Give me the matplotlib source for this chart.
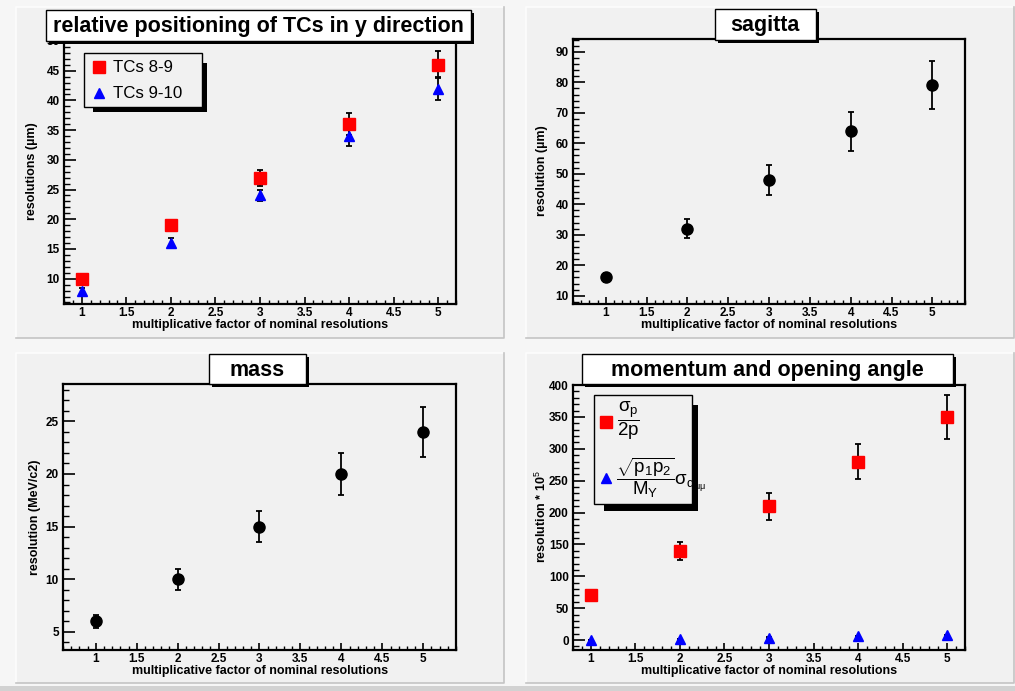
import numpy as np
import matplotlib
matplotlib.use("Agg")
import matplotlib.pyplot as plt
from matplotlib.patches import Rectangle
from matplotlib.ticker import MultipleLocator

plt.rcParams['font.family'] = ['Liberation Sans', 'DejaVu Sans']
plt.rcParams['font.weight'] = 'bold'
plt.rcParams['mathtext.fontset'] = 'custom'
plt.rcParams['mathtext.rm'] = 'Liberation Sans:weight=normal'
plt.rcParams['mathtext.it'] = 'Liberation Sans:weight=normal'
plt.rcParams['mathtext.sf'] = 'Liberation Sans:weight=normal'
plt.rcParams['mathtext.bf'] = 'Liberation Sans:weight=bold'

# ---- data ----
factor = [1, 2, 3, 4, 5]

tc89 = [10, 19, 27, 36, 46]
tc89_err = [0.5, 0.95, 1.35, 1.8, 2.3]
tc910 = [8, 16, 24, 34, 42]
tc910_err = [0.4, 0.8, 0.9, 1.7, 2.0]

sagitta = [16, 32, 48, 64, 79]
sagitta_err = [1.6, 3.2, 4.8, 6.4, 7.9]

mass = [6, 10, 15, 20, 24]
mass_err = [0.6, 1.0, 1.5, 2.0, 2.4]

momentum = [70, 140, 210, 280, 350]
momentum_err = [7, 14, 21, 28, 35]
angle = [0.4, 1.8, 3.8, 5.6, 7.6]
angle_err = [0.05, 0.2, 0.4, 0.6, 0.8]

XLABEL = "multiplicative factor of nominal resolutions"

W, H = 1015, 691
PAD = '#f1f1f1'
fig = plt.figure(figsize=(W / 100, H / 100), dpi=100)
fig.patch.set_facecolor('#f6f6f6')

# background: pads with bevel borders
bg = fig.add_axes([0, 0, 1, 1], zorder=-10)
bg.set_xlim(0, W); bg.set_ylim(H, 0); bg.axis('off')
for (x0, y0, x1, y1) in [(16, 7, 504, 338), (526, 7, 1014, 338),
                         (16, 353, 504, 683), (526, 353, 1014, 683)]:
    bg.add_patch(Rectangle((x0, y0), x1 - x0, y1 - y0, facecolor=PAD, edgecolor='none'))
    bg.plot([x0, x0, x1], [y1, y0, y0], color='#fdfdfd', lw=1.2)
    bg.plot([x0, x1, x1], [y1, y1, y0], color='#c4c4c4', lw=1.2)
bg.add_patch(Rectangle((0, 686), W, 5, facecolor='#d2d2d2', edgecolor='none'))


def frame(l, t, r, b, xlim, ylim, ymaj, ymin):
    ax = fig.add_axes([l / W, 1 - b / H, (r - l) / W, (b - t) / H])
    ax.set_facecolor(PAD)
    ax.set_xlim(*xlim); ax.set_ylim(*ylim)
    for s in ax.spines.values():
        s.set_linewidth(1.6)
    ax.xaxis.set_major_locator(MultipleLocator(0.5))
    ax.xaxis.set_minor_locator(MultipleLocator(0.1))
    ax.yaxis.set_major_locator(MultipleLocator(ymaj))
    ax.yaxis.set_minor_locator(MultipleLocator(ymin))
    ax.xaxis.set_major_formatter(plt.FuncFormatter(lambda v, p: f"{v:g}"))
    ax.tick_params(axis='y', which='major', direction='in', length=8.5, width=1.2,
                   labelsize=8.5, pad=3)
    ax.tick_params(axis='y', which='minor', direction='in', length=4.3, width=1.0)
    ax.tick_params(axis='x', which='major', direction='in', length=5.4, width=1.2,
                   labelsize=8.5, pad=2)
    ax.tick_params(axis='x', which='minor', direction='in', length=2.7, width=1.0)
    return ax


def errs(ax, y, e, color, marker, ms):
    ax.errorbar(factor, y, yerr=e, fmt='none', ecolor='black', elinewidth=1.3,
                capsize=2.3, capthick=1.3, zorder=3)
    ax.plot(factor, y, linestyle='none', marker=marker, color=color, ms=ms, zorder=4)


def labels(xc, xy, yx, yc, ylabel):
    fig.text(xc / W, 1 - xy / H, XLABEL, ha='center', va='center', fontsize=9)
    fig.text(yx / W, 1 - yc / H, ylabel, ha='center', va='center', fontsize=9, rotation=90)


# top left
ax1 = frame(64, 38, 456, 304, (0.8, 5.2), (5.74, 50.5), 5, 1)
errs(ax1, tc89, tc89_err, '#ff0000', 's', 9)
errs(ax1, tc910, tc910_err, '#0000ff', '^', 7.8)
labels(260, 325, 32, 171, "resolutions (µm)")

# top right
ax2 = frame(573, 39, 965, 304, (0.6, 5.4), (7.3, 94.2), 10, 2)
errs(ax2, sagitta, sagitta_err, 'black', 'o', 8)
labels(769, 325, 542, 171, "resolution (µm)")

# bottom left
ax3 = frame(63, 384, 456, 650, (0.6, 5.4), (3.26, 28.56), 5, 1)
errs(ax3, mass, mass_err, 'black', 'o', 8)
labels(260, 671, 35, 517, "resolution (MeV/c2)")

# bottom right
ax4 = frame(573, 385, 965, 650, (0.8, 5.2), (-15.6, 400), 50, 10)
errs(ax4, momentum, momentum_err, '#ff0000', 's', 9)
errs(ax4, angle, angle_err, '#0000ff', '^', 7.8)
labels(769, 671, 541, 517, r"resolution * 10$^{5}$")

# overlay: title boxes and legends with ROOT-like shadows
ov = fig.add_axes([0, 0, 1, 1], zorder=10)
ov.set_xlim(0, W); ov.set_ylim(H, 0); ov.axis('off')
ov.patch.set_alpha(0)


def shadow_box(x0, y0, x1, y1, sx, sy, sx1, sy1):
    ov.add_patch(Rectangle((sx, sy), sx1 - sx, sy1 - sy, facecolor='black', edgecolor='none'))
    ov.add_patch(Rectangle((x0, y0), x1 - x0, y1 - y0, facecolor=PAD,
                           edgecolor='black', lw=1.0))


def title_box(x0, y0, x1, y1, text):
    ov.add_patch(Rectangle((x0 + 3, y0 + 3), x1 - x0, y1 - y0, facecolor='black', edgecolor='none'))
    ov.add_patch(Rectangle((x0, y0), x1 - x0, y1 - y0, facecolor='white', edgecolor='black', lw=1.0))
    ov.text((x0 + x1) / 2, (y0 + y1) / 2 + 1, text, ha='center', va='center', fontsize=15.5)


title_box(46, 10, 471, 40.7, "relative positioning of TCs in y direction")
title_box(715, 9.3, 815.7, 40, "sagitta")
title_box(209, 354, 306, 384.3, "mass")
title_box(582.3, 354, 952.7, 384, "momentum and opening angle")

# legend top left
shadow_box(84, 53.3, 201.7, 106.7, 93, 63, 207, 112)
ov.plot([99], [66.7], marker='s', color='#ff0000', ms=9, linestyle='none')
ov.plot([99], [93.3], marker='^', color='#0000ff', ms=7.8, linestyle='none')
ov.text(113, 67, "TCs 8-9", ha='left', va='center', fontsize=12.2, fontweight='normal')
ov.text(113, 93.5, "TCs 9-10", ha='left', va='center', fontsize=12.2, fontweight='normal')

# legend bottom right
shadow_box(594, 395, 692.3, 504.3, 604, 405, 697.7, 510.7)
ov.plot([606], [422.3], marker='s', color='#ff0000', ms=9, linestyle='none')
ov.plot([606], [478.3], marker='^', color='#0000ff', ms=7.8, linestyle='none')
ov.text(617, 421, r"$\dfrac{\sigma_p}{2p}$", ha='left', va='center', fontsize=13.5,
        fontweight='normal')
ov.text(616, 478, r"$\dfrac{\sqrt{p_1p_2}}{M_\Upsilon}\sigma_{\alpha_{\mu\mu}}$", ha='left',
        va='center', fontsize=13.5, fontweight='normal')

fig.savefig("out.png", dpi=100, facecolor=fig.get_facecolor())
